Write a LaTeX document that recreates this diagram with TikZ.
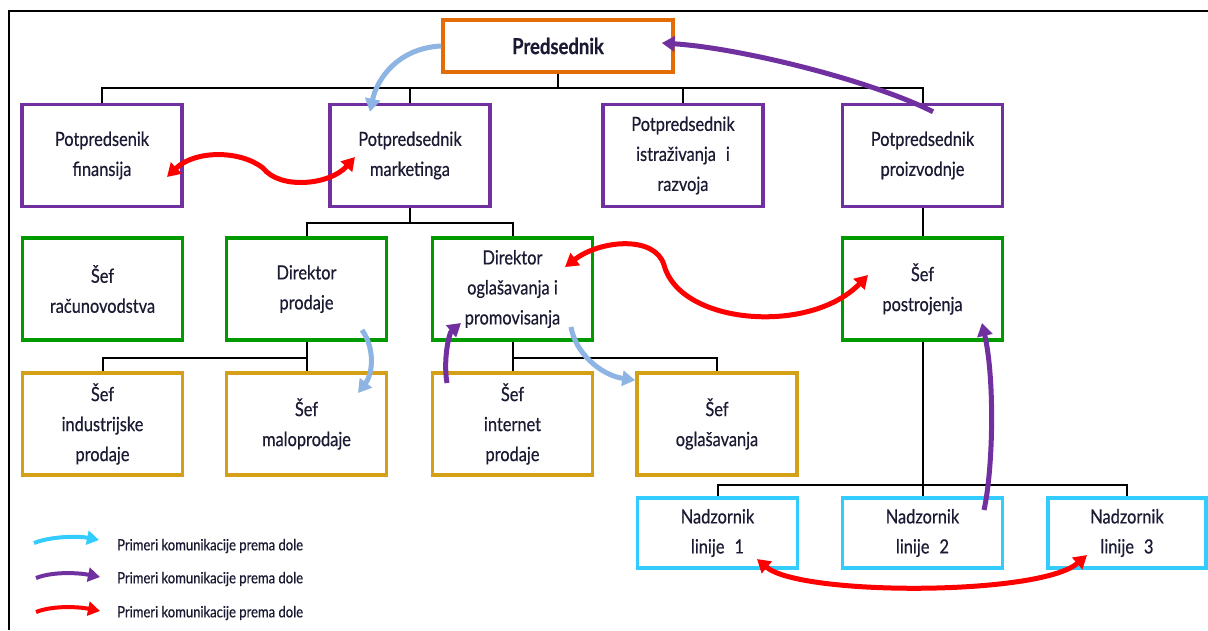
\documentclass[tikz,border=0pt]{standalone}
\usepackage{fontspec}
\setmainfont{Lato}[FakeStretch=0.84, FakeBold=0.5]
\usetikzlibrary{arrows.meta}
\definecolor{corange}{HTML}{E36C09}
\definecolor{cpurple}{HTML}{7030A0}
\definecolor{cgreen}{HTML}{009A00}
\definecolor{cgold}{HTML}{D4A017}
\definecolor{ccyan}{HTML}{33CCFF}
\definecolor{cblue}{HTML}{8DB4E2}
\definecolor{cred}{HTML}{FF0000}
\definecolor{ctext}{HTML}{1A1A33}
\begin{document}
\begin{tikzpicture}[x=1pt,y=-1pt,
  box/.style={draw, line width=3.5pt, minimum width=160pt, minimum height=102pt,
    align=center, inner sep=0pt, text=ctext, font=\fontsize{19.5}{30}\selectfont},
  lowbox/.style={box, minimum height=70pt},
  org/.style={line width=2pt, draw=black},
  comm/.style={line width=5pt, -{Triangle[length=13pt,width=15pt]}},
  dcomm/.style={line width=5pt, {Triangle[length=13pt,width=15pt]}-{Triangle[length=13pt,width=15pt]}},
  leg/.style={line width=4pt, -{Triangle[length=12pt,width=14pt]}},
  legtext/.style={anchor=west, inner sep=0pt, text=ctext, font=\fontsize{15.5}{17}\selectfont}
]
\useasboundingbox (0,0) rectangle (1208,630);
\fill[white] (0,0) rectangle (1208,630);
% frame
\draw[line width=2pt] (9,630) -- (9,11) -- (1208,11);

% boxes
\node[box, draw=corange, minimum width=230pt, minimum height=52pt,
  font=\fontsize{22}{26}\selectfont\bfseries] (pred) at (558,46) {Predsednik};
\node[box, draw=cpurple] (fin) at (102,155.5) {Potpredsenik\\finansija};
\node[box, draw=cpurple] (mkt) at (410,155.5) {Potpredsednik\\marketinga};
\node[box, draw=cpurple] (ist) at (683,155.5) {Potpredsednik\\istraživanja\hspace{10pt}i\\razvoja};
\node[box, draw=cpurple] (pro) at (922.5,155.5) {Potpredsednik\\proizvodnje};

\node[box, draw=cgreen] (rac) at (102.5,289) {Šef\\računovodstva};
\node[box, draw=cgreen] (dpr) at (306.5,289) {Direktor\\prodaje};
\node[box, draw=cgreen] (dog) at (512.5,289) {Direktor\\oglašavanja i\\promovisanja};
\node[box, draw=cgreen] (pos) at (922.5,289) {Šef\\postrojenja};

\node[box, draw=cgold] (ind) at (102.5,424) {Šef\\industrijske\\prodaje};
\node[box, draw=cgold] (mal) at (306.5,424) {Šef\\maloprodaje};
\node[box, draw=cgold] (int) at (512.5,424) {Šef\\internet\\prodaje};
\node[box, draw=cgold] (sog) at (717,424) {Šef\\oglašavanja};

\node[lowbox, draw=ccyan] (n1) at (717.5,533) {Nadzornik\\linije\hspace{10pt}1};
\node[lowbox, draw=ccyan] (n2) at (922.5,533) {Nadzornik\\linije\hspace{10pt}2};
\node[lowbox, draw=ccyan, minimum width=158pt] (n3) at (1127,533) {Nadzornik\\linije\hspace{10pt}3};

% org lines
\foreach \c in {fin,mkt,ist,pro} \draw[org] (pred.south) -- ++(0,14) -| (\c.north);
\foreach \c in {dpr,dog} \draw[org] (mkt.south) -- ++(0,15) -| (\c.north);
\draw[org] (pro.south) -- (pos.north);
\foreach \c in {ind,mal} \draw[org] (dpr.south) -- ++(0,16) -| (\c.north);
\foreach \c in {int,sog} \draw[org] (dog.south) -- ++(0,16) -| (\c.north);
\foreach \c in {n1,n2,n3} \draw[org] (pos.south) -- ++(0,143) -| (\c.north);

% communication arrows
\draw[comm, cblue] (pred.west) .. controls +(-43,2) and +(7,-33) .. ([shift={(-40,9)}]mkt.north);
\draw[dcomm, cred] ([shift={(65,21.5)}]fin.center) .. controls (195,150) and (240,150) .. (263,168)
   .. controls (280,190) and (330,185) .. ([shift={(-55,1.5)}]mkt.center);
\draw[comm, cpurple] ([shift={(10.5,9)}]pro.north) .. controls (870,80) and (740,48) .. ([shift={(-13,-3)}]pred.east);
\draw[comm, cblue] ([shift={(55.5,41)}]dpr.center) .. controls (376,350) and (372,375) .. ([shift={(51.5,-31)}]mal.center);
\draw[comm, cpurple] ([shift={(-65.5,-41)}]int.center) .. controls (443,360) and (449,333) .. ([shift={(-51.5,34)}]dog.center);
\draw[comm, cblue] ([shift={(58.5,38)}]dog.center) .. controls (575,352) and (600,375) .. ([shift={(0,9)}]sog.north west);
\draw[dcomm, cred] ([shift={(52.5,-22)}]dog.center) .. controls (600,240) and (655,235) .. (664,265)
   .. controls (680,325) and (810,335) .. ([shift={(-54.5,-14)}]pos.center);
\draw[comm, cpurple] ([shift={(61.5,-23)}]n2.center) .. controls (993,470) and (995,380) .. ([shift={(59.5,34)}]pos.center);
\draw[dcomm, cred] ([shift={(39.5,26)}]n1.center) .. controls (800,596) and (1040,596) .. ([shift={(-40,22)}]n3.center);

% legend
\coordinate (la1) at (34,543); \coordinate (lb1) at (99,540);
\coordinate (la2) at (36,578); \coordinate (lb2) at (100,577);
\coordinate (la3) at (36,612); \coordinate (lb3) at (100,611);
\draw[leg, ccyan] (la1) .. controls +(18,-7) and +(-20,-4) .. (lb1);
\draw[leg, cpurple] (la2) .. controls +(18,-7) and +(-20,-4) .. (lb2);
\draw[leg, cred] (la3) .. controls +(18,-7) and +(-20,-4) .. (lb3);
\node[legtext] (lt1) at (117,546) {Primeri komunikacije prema dole};
\node[legtext] (lt2) at (117,579) {Primeri komunikacije prema dole};
\node[legtext] (lt3) at (117,613) {Primeri komunikacije prema dole};
\end{tikzpicture}
\end{document}
